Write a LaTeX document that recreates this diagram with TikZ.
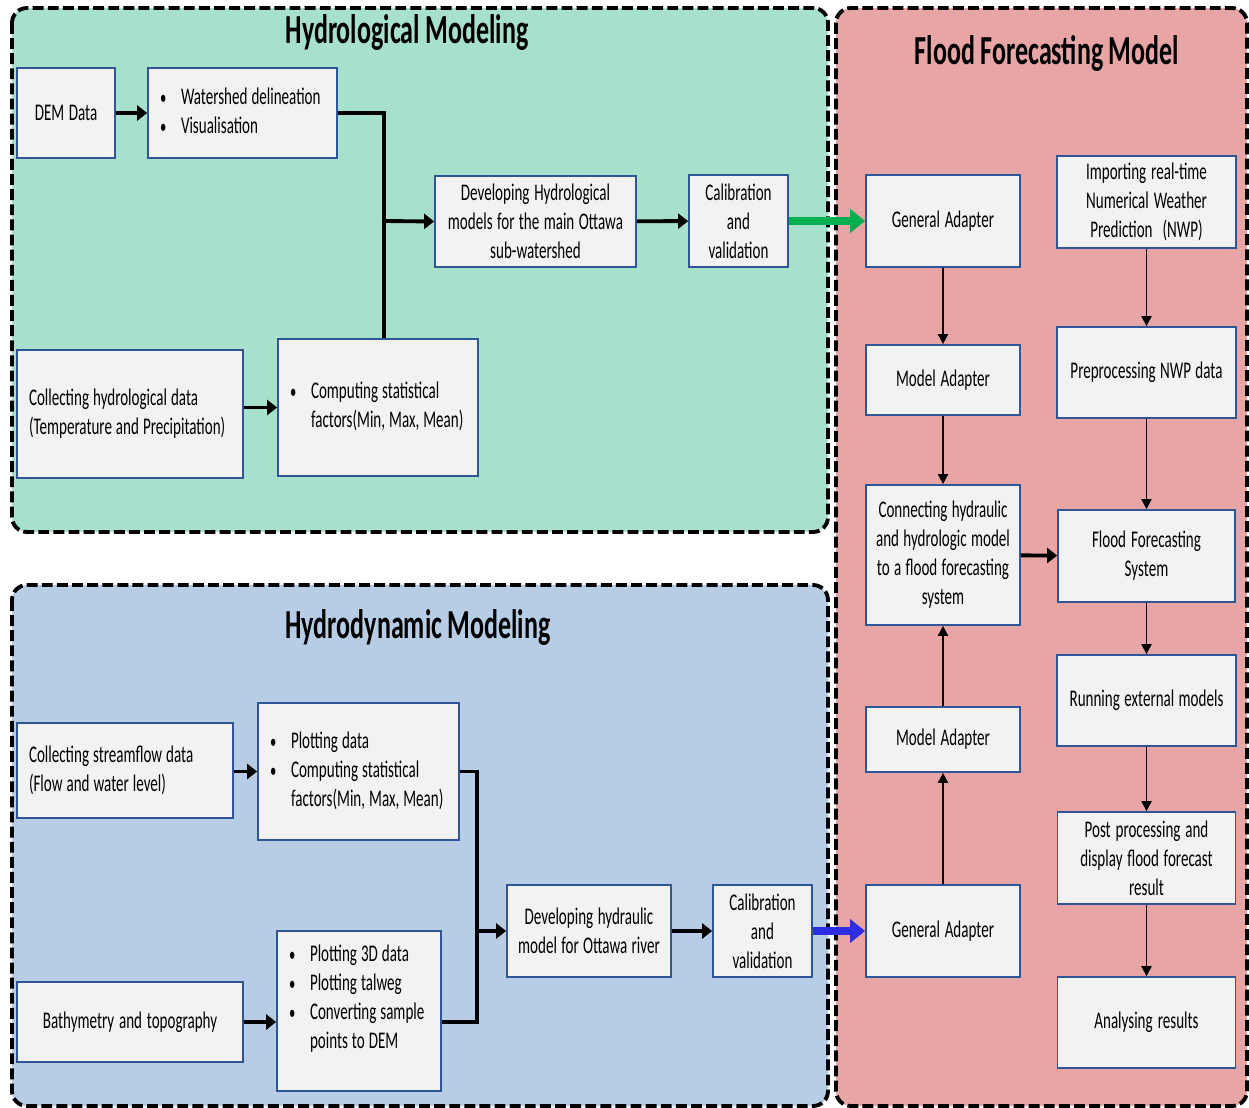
\documentclass[tikz,border=0pt]{standalone}
\usepackage{fontspec}
\setmainfont{Carlito}[FakeStretch=0.63]
\usetikzlibrary{arrows.meta}

\definecolor{hydgreen}{RGB}{167,225,203}
\definecolor{dynblue}{RGB}{183,205,229}
\definecolor{floodred}{RGB}{232,165,165}
\definecolor{boxgray}{RGB}{242,242,242}
\definecolor{boxedge}{RGB}{47,85,151}
\definecolor{linkgreen}{RGB}{0,176,80}
\definecolor{linkblue}{RGB}{45,45,225}

\newcommand{\titlefont}{\fontsize{23.5}{28}\selectfont\bfseries\spaceskip=0.11cm plus 0.03cm minus 0.02cm\relax}
\newcommand{\boxfont}{\fontsize{13.6}{16.5}\selectfont}
\newcommand{\boxspace}{\spaceskip=0.08cm plus 0.03cm minus 0.02cm\relax}
\newcommand{\itemlist}[1]{\begin{tabular}{@{}p{0.42cm}@{}l@{}}#1\end{tabular}}
\newcommand{\dotmark}{{\fontsize{11.5}{11.5}\selectfont\textbullet}}

\begin{document}
\begin{tikzpicture}[x=0.02cm, y=-0.02cm,
  panel/.style={line width=2.2pt, dash pattern=on 6.2pt off 2.4pt, rounded corners=0.3cm},
  title/.style={anchor=base, font=\titlefont},
  box/.style={draw=boxedge, fill=boxgray, line width=1pt, align=center, inner xsep=0pt, inner ysep=0pt, font=\boxfont, execute at begin node=\boxspace},
  lbox/.style={box, align=left, inner xsep=0.24cm},
  heavy/.style={line width=2.2pt, -{Triangle[length=0.2cm,width=0.3cm]}},
  light/.style={line width=1.1pt, -{Triangle[length=0.2cm,width=0.2cm]}},
  feed/.style={line width=4.2pt, -{Triangle[length=0.3cm,width=0.46cm]}}
]
\useasboundingbox (0,0) rectangle (1249,1108);

% panels
\draw[panel, fill=hydgreen] (12,8) rectangle (828,532);
\draw[panel, fill=dynblue] (12,585) rectangle (828,1106);
\draw[panel, fill=floodred] (836,8) rectangle (1247,1106);

\node[title] (hydtitle) at (407,43.5) {Hydrological Modeling};
\node[title] (dyntitle) at (418,639) {Hydrodynamic Modeling};
\node[title] (floodtitle) at (1047,65) {Flood Forecasting Model};

% hydrological modeling
\node[box, text width=1.96cm, minimum height=1.8cm] (dem) at (66,113) {DEM Data};
\node[lbox, text width=3.3cm, minimum height=1.8cm] (shed) at (242.5,113) {\itemlist{\dotmark & Watershed delineation\\ \dotmark & Visualisation}};
\node[box, text width=4.02cm, minimum height=1.82cm] (devhyd) at (535.5,221.5) {Developing Hydrological\\models for the main Ottawa\\sub-watershed};
\node[box, text width=1.98cm, minimum height=1.84cm] (calhyd) at (738.5,221) {Calibration\\and\\validation};
\node[lbox, text width=4.04cm, minimum height=2.56cm] (colhyd) at (130,414) {Collecting hydrological data\\(Temperature and Precipitation)};
\node[lbox, text width=3.52cm, minimum height=2.74cm] (stathyd) at (378,407.5) {\itemlist{\dotmark & Computing statistical\\ & factors(Min, Max, Mean)}};
\coordinate (hydjoin) at (384,221);

\draw[heavy] (dem) -- (shed);
\draw[line width=2.2pt] (shed.east) -| (hydjoin |- stathyd.north);
\draw[heavy] (hydjoin) -- (devhyd.west);
\draw[heavy] (colhyd.east |- stathyd.west) -- (stathyd.west);
\draw[heavy] (devhyd) -- (calhyd);

% hydrodynamic modeling
\node[lbox, text width=3.84cm, minimum height=1.9cm] (colflow) at (125,770.5) {Collecting streamflow data\\(Flow and water level)};
\node[lbox, text width=3.54cm, minimum height=2.74cm] (plot) at (358.5,771.5) {\itemlist{\dotmark & Plotting data\\ \dotmark & Computing statistical\\ & factors(Min, Max, Mean)}};
\node[box, text width=4.52cm, minimum height=1.6cm] (bathy) at (130,1022) {Bathymetry and topography};
\node[lbox, text width=2.8cm, minimum height=3.2cm] (plot3d) at (359,1011) {\itemlist{\dotmark & Plotting 3D data\\ \dotmark & Plotting talweg\\ \dotmark & Converting sample\\ & points to DEM\\[0.48cm]}};
\node[box, text width=3.28cm, minimum height=1.84cm] (devhyn) at (589,931) {Developing hydraulic\\model for Ottawa river};
\node[box, text width=1.98cm, minimum height=1.84cm] (calhyn) at (762.5,931) {Calibration\\and\\validation};
\coordinate (dynjoin) at (477,931);

\draw[heavy] (colflow.east |- plot.west) -- (plot.west);
\draw[heavy] (bathy.east) -- (bathy.east -| plot3d.west);
\draw[line width=2.2pt] (plot.east) -| (dynjoin |- bathy.east) -- (bathy.east -| plot3d.east);
\draw[heavy] (dynjoin) -- (devhyn.west);
\draw[heavy] (devhyn) -- (calhyn);

% flood forecasting model
\node[box, text width=3.08cm, minimum height=1.84cm] (ga1) at (943,221) {General Adapter};
\node[box, text width=3.08cm, minimum height=1.4cm] (ma1) at (943,380) {Model Adapter};
\node[box, text width=3.08cm, minimum height=2.8cm] (conn) at (943,555) {Connecting hydraulic\\and hydrologic model\\to a flood forecasting\\system};
\node[box, text width=3.08cm, minimum height=1.3cm] (ma2) at (943,739.5) {Model Adapter};
\node[box, text width=3.08cm, minimum height=1.84cm] (ga2) at (943,931) {General Adapter};
\node[box, text width=3.58cm, minimum height=1.84cm] (nwp) at (1146.5,202) {Importing real-time\\Numerical Weather\\Prediction\ \ (NWP)};
\node[box, text width=3.58cm, minimum height=1.82cm] (prep) at (1146.5,372.5) {Preprocessing NWP data};
\node[box, text width=3.54cm, minimum height=1.84cm] (ffs) at (1146.5,556) {Flood Forecasting\\System};
\node[box, text width=3.58cm, minimum height=1.82cm] (run) at (1146.5,700.5) {Running external models};
\node[box, text width=3.56cm, minimum height=1.84cm] (post) at (1146.5,858) {Post processing and\\display flood forecast\\result};
\node[box, text width=3.56cm, minimum height=1.82cm] (ana) at (1146.5,1022.5) {Analysing results};

\draw[light] (ga1) -- (ma1);
\draw[light] (ma1) -- (conn);
\draw[light] (ma2) -- (conn);
\draw[light] (ga2) -- (ma2);
\draw[heavy] (conn) -- (ffs);
\draw[light] (nwp) -- (prep);
\draw[light] (prep) -- (ffs);
\draw[light] (ffs) -- (run);
\draw[light] (run) -- (post);
\draw[light] (post) -- (ana);

% links between the models
\draw[feed, linkgreen] (calhyd) -- (ga1);
\draw[feed, linkblue] (calhyn) -- (ga2);

\end{tikzpicture}
\end{document}
